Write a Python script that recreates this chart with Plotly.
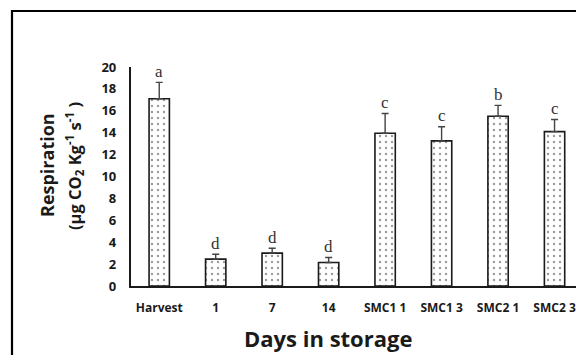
import plotly.graph_objects as go

categories = ["Harvest", "1", "7", "14", "SMC1 1", "SMC1 3", "SMC2 1", "SMC2 3"]
respiration = [17.1, 2.45, 3.0, 2.15, 13.95, 13.25, 15.5, 14.1]
error_up = [1.5, 0.45, 0.45, 0.45, 1.8, 1.3, 1.0, 1.1]
letters = ["a", "d", "d", "d", "c", "c", "b", "c"]
y_ticks = [0, 2, 4, 6, 8, 10, 12, 14, 16, 18, 20]

W, H = 576, 355
ML, MR, MT, MB = 131, 0, 67, 69
PW = W - ML - MR
PH = H - MT - MB
FONT = "Open Sans"

def px(x):
    return (x - ML) / PW

def py(y):
    return (H - MB - y) / PH

fig = go.Figure()
fig.add_trace(go.Bar(
    x=categories, y=respiration, width=0.36,
    marker=dict(color="white", line=dict(color="#1a1a1a", width=1.6),
                pattern=dict(shape=".", fgcolor="#333", bgcolor="white", size=6, solidity=0.12)),
    error_y=dict(type="data", symmetric=False, array=error_up, arrayminus=[0]*len(error_up),
                 color="#444", thickness=1.4, width=3.5),
    showlegend=False,
))

for i, (v, e, l) in enumerate(zip(respiration, error_up, letters)):
    fig.add_annotation(x=i, y=v + e, text=l, showarrow=False, yanchor="middle", yshift=11,
                       font=dict(family="Liberation Serif", size=17, color="#333"))

fig.add_annotation(x=px(328), y=py(338), xref="paper", yref="paper", text="Days in storage",
                   showarrow=False, xanchor="center", yanchor="middle",
                   font=dict(family=FONT, size=22, color="#1a1a1a", weight="bold"))
fig.add_annotation(x=px(47), y=py(165), xref="paper", yref="paper", text="Respiration",
                   showarrow=False, textangle=-90, xanchor="center", yanchor="middle",
                   font=dict(family=FONT, size=18, color="#1a1a1a", weight="bold"))
fig.add_annotation(x=px(74), y=py(166), xref="paper", yref="paper",
                   text="(µg CO<sub>2</sub> Kg<sup>-1</sup> s<sup>-1</sup> )",
                   showarrow=False, textangle=-90, xanchor="center", yanchor="middle",
                   font=dict(family=FONT, size=16.5, color="#1a1a1a", weight="bold"))

fig.add_shape(type="rect", xref="paper", yref="paper", x0=px(12), x1=px(W + 20),
              y0=py(H + 20), y1=py(11), line=dict(color="black", width=2.2), fillcolor="rgba(0,0,0,0)")

fig.update_xaxes(type="category", range=[-0.5, 7.38], showline=True, linecolor="#1a1a1a", linewidth=2.2,
                 ticks="outside", ticklen=9, tickcolor="rgba(0,0,0,0)", showgrid=False,
                 tickfont=dict(family=FONT, size=12, color="#1a1a1a", weight="bold"))
fig.update_yaxes(range=[0, 20], tickvals=y_ticks, showline=True, linecolor="#1a1a1a", linewidth=2.2,
                 ticks="outside", ticklen=10, tickcolor="rgba(0,0,0,0)", showgrid=False, zeroline=False,
                 tickfont=dict(family=FONT, size=13, color="#1a1a1a", weight="bold"))

fig.update_layout(width=W, height=H, margin=dict(l=ML, r=MR, t=MT, b=MB, autoexpand=False),
                  plot_bgcolor="white", paper_bgcolor="white", bargap=0.6)

fig.write_html("out.html", config={"displayModeBar": False},
               post_script="document.body.style.margin='0';")
